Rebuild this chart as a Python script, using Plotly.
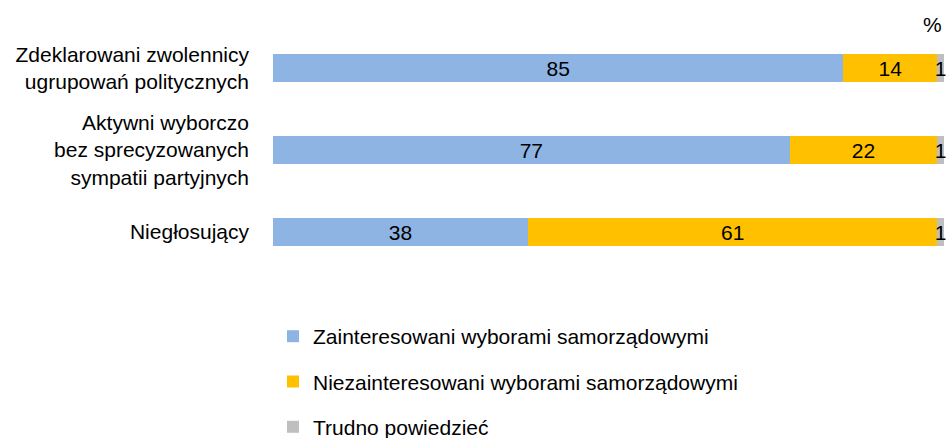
import plotly.graph_objects as go

categories = [
    "Zdeklarowani zwolennicy<br>ugrupowań politycznych",
    "Aktywni wyborczo<br>bez sprecyzowanych<br>sympatii partyjnych",
    "Niegłosujący",
]
series_names = [
    "Zainteresowani wyborami samorządowymi",
    "Niezainteresowani wyborami samorządowymi",
    "Trudno powiedzieć",
]
interested = [85, 77, 38]
not_interested = [14, 22, 61]
hard_to_say = [1, 1, 1]
colors = ["#8EB4E3", "#FFC000", "#BFBFBF"]

FONT = "Liberation Sans, Arial, sans-serif"
FS = 21

fig = go.Figure()
for i, (name, vals) in enumerate(zip(series_names, [interested, not_interested, hard_to_say])):
    fig.add_trace(go.Bar(
        y=categories, x=vals, name=name, orientation="h",
        marker=dict(color=colors[i], line=dict(width=0)),
        text=[str(v) for v in vals], textposition="inside",
        insidetextanchor="middle", constraintext="none",
        textfont=dict(color="#000000", size=FS, family=FONT),
        cliponaxis=False, legendgroup=f"g{i}",
    ))

fig.update_layout(
    barmode="stack",
    bargap=0.66,
    width=949, height=438,
    margin=dict(l=273, r=5, t=27, b=165, autoexpand=False),
    paper_bgcolor="white", plot_bgcolor="white",
    font=dict(family=FONT, size=FS, color="#000000"),
    xaxis=dict(range=[0, 100], visible=False, fixedrange=True),
    yaxis=dict(autorange="reversed", showgrid=False, showline=False, zeroline=False,
               ticks="", ticklabelstandoff=23,
               tickfont=dict(size=FS, family=FONT, color="#000000")),
    legend=dict(orientation="v", x=0.0, xanchor="left", y=-0.175, yanchor="top",
                tracegroupgap=15, traceorder="grouped",
                font=dict(size=FS, family=FONT, color="#000000"),
                itemwidth=30),
    annotations=[dict(text="%", xref="paper", yref="paper", x=1, y=1, xanchor="right",
                      yanchor="middle", yshift=3, showarrow=False,
                      font=dict(size=FS, family=FONT, color="#000000"))],
)

fig.write_html(
    "out.html",
    config={"displayModeBar": False},
    post_script="document.body.style.margin='0';document.body.style.overflow='hidden';",
)
